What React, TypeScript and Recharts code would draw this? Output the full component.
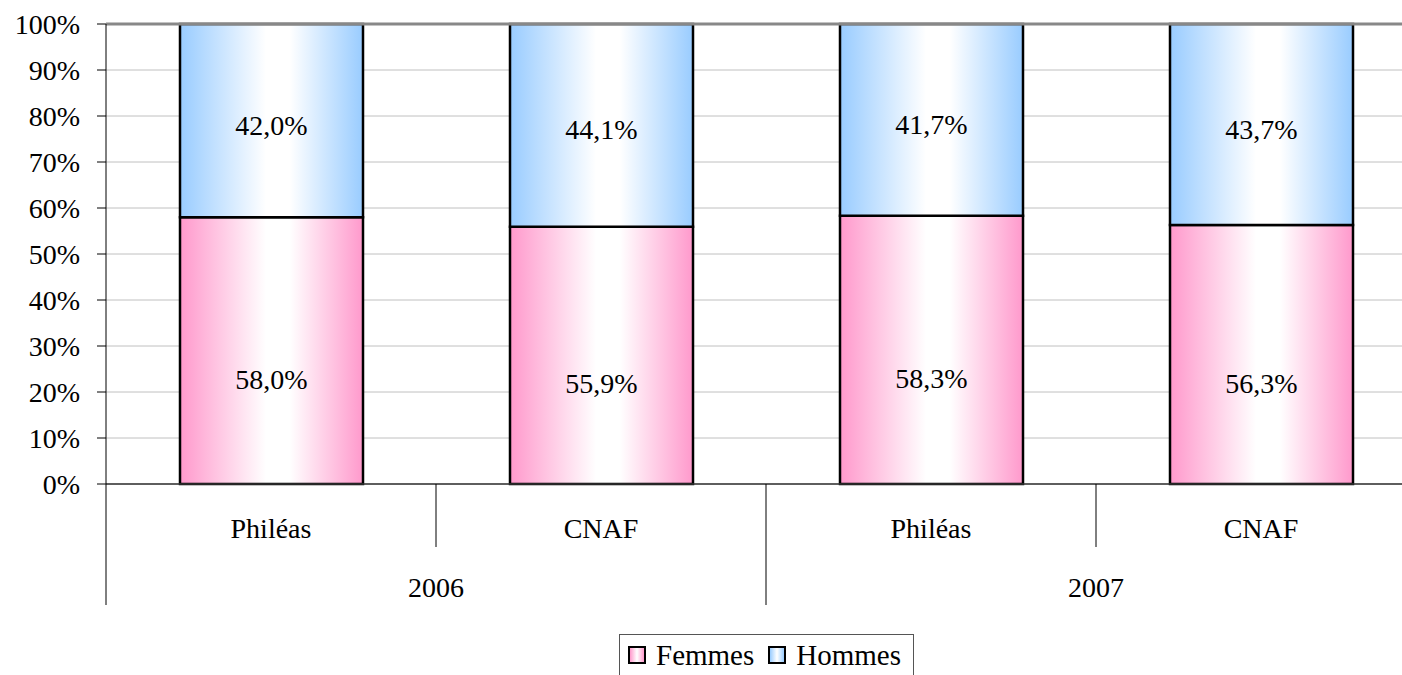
import {
  BarChart,
  Bar,
  XAxis,
  YAxis,
  CartesianGrid,
  LabelList,
  Legend,
  ReferenceLine,
} from "recharts";

const categories = ["Philéas", "CNAF", "Philéas", "CNAF"];
const years = ["2006", "2006", "2007", "2007"];
const femmes = [58.0, 55.9, 58.3, 56.3];
const hommes = [42.0, 44.1, 41.7, 43.7];
const yTicks = [0, 10, 20, 30, 40, 50, 60, 70, 80, 90, 100];

const data = categories.map((name, i) => ({
  name,
  year: years[i],
  femmes: femmes[i],
  hommes: hommes[i],
}));

const CHART_W = 1426;
const CHART_H = 675;
const PLOT_LEFT = 106;
const BAND = (CHART_W - PLOT_LEFT) / categories.length;
const FONT = '"Times New Roman", "Liberation Serif", serif';
const textStyle = { fontFamily: FONT, fontSize: 28, fontWeight: 400 };

const PINK = "#ff99cc";
const BLUE = "#99ccff";

const fmt = (v: number) => v.toFixed(1).replace(".", ",") + "%";

const XTick = (props: any) => {
  const { x, y, index } = props;
  const left = x - BAND / 2;
  const startsGroup = index === 0 || years[index] !== years[index - 1];
  let groupSize = 1;
  while (index + groupSize < years.length && years[index + groupSize] === years[index]) groupSize++;
  return (
    <g>
      <line x1={left} x2={left} y1={y} y2={y + (startsGroup ? 121 : 63)} stroke="#000" strokeWidth={1} />
      <text x={x} y={y + 54} textAnchor="middle" style={textStyle} fill="#000">
        {categories[index]}
      </text>
      {startsGroup && (
        <text x={left + (BAND * groupSize) / 2} y={y + 113} textAnchor="middle" style={textStyle} fill="#000">
          {years[index]}
        </text>
      )}
    </g>
  );
};

const YTick = (props: any) => {
  const { x, y, payload } = props;
  return (
    <text x={x} y={y + 10} textAnchor="end" style={textStyle} fill="#000">
      {`${payload.value}%`}
    </text>
  );
};

const makeLabel = (shift: number) => (props: any) => {
  const { x, y, width, height, value } = props;
  return (
    <text x={x + width / 2} y={y + height / 2 + shift + 10} textAnchor="middle" style={textStyle} fill="#000">
      {fmt(value)}
    </text>
  );
};

const Swatch = ({ color }: { color: string }) => (
  <span
    style={{
      display: "inline-block",
      width: 14,
      height: 14,
      border: "2px solid #000",
      background: `linear-gradient(to right, ${color}, #fff 50%, ${color})`,
      marginRight: 10,
    }}
  />
);

const LegendBox = () => (
  <div
    style={{
      border: "1px solid #555",
      background: "#fff",
      display: "flex",
      alignItems: "center",
      padding: "2px 6px 6px 8px",
      fontFamily: FONT,
      fontSize: 29,
      color: "#000",
      whiteSpace: "nowrap",
      boxSizing: "border-box",
      width: 295,
      height: 46,
    }}
  >
    <Swatch color={PINK} />
    <span style={{ marginRight: 14 }}>Femmes</span>
    <Swatch color={BLUE} />
    <span>Hommes</span>
  </div>
);

export default function App() {
  return (
    <div
      style={{
        position: "absolute",
        left: 0,
        top: 0,
        width: 1402,
        height: 675,
        overflow: "hidden",
        background: "#fff",
        fontFamily: FONT,
      }}
    >
      <BarChart
        width={CHART_W}
        height={CHART_H}
        data={data}
        margin={{ top: 24, right: 0, bottom: 70, left: 0 }}
        barSize={183}
      >
        <defs>
          <linearGradient id="gPink" x1="0" y1="0" x2="1" y2="0">
            <stop offset="0" stopColor={PINK} />
            <stop offset="0.47" stopColor="#ffffff" />
            <stop offset="0.6" stopColor="#ffffff" />
            <stop offset="1" stopColor={PINK} />
          </linearGradient>
          <linearGradient id="gBlue" x1="0" y1="0" x2="1" y2="0">
            <stop offset="0" stopColor={BLUE} />
            <stop offset="0.47" stopColor="#ffffff" />
            <stop offset="0.6" stopColor="#ffffff" />
            <stop offset="1" stopColor={BLUE} />
          </linearGradient>
        </defs>
        <CartesianGrid vertical={false} stroke="#c0c0c0" />
        <XAxis
          dataKey="name"
          height={121}
          tickLine={false}
          tickSize={0}
          tickMargin={0}
          interval={0}
          stroke="#333"
          strokeWidth={1.5}
          tick={<XTick />}
        />
        <YAxis
          width={PLOT_LEFT}
          domain={[0, 100]}
          ticks={yTicks}
          tickSize={9}
          tickMargin={17}
          stroke="#000"
          tick={<YTick />}
          interval={0}
        />
        <ReferenceLine y={100} stroke="#888" strokeWidth={3} />
        <Legend
          layout="horizontal"
          verticalAlign="middle"
          align="center"
          wrapperStyle={{ top: 634, left: 619, width: 295 }}
          content={() => <LegendBox />}
        />
        <Bar dataKey="femmes" name="Femmes" stackId="a" fill="url(#gPink)" stroke="#000" strokeWidth={2.5} isAnimationActive={false}>
          <LabelList dataKey="femmes" content={makeLabel(28)} />
        </Bar>
        <Bar dataKey="hommes" name="Hommes" stackId="a" fill="url(#gBlue)" stroke="#000" strokeWidth={2.5} isAnimationActive={false}>
          <LabelList dataKey="hommes" content={makeLabel(4)} />
        </Bar>
      </BarChart>
    </div>
  );
}
